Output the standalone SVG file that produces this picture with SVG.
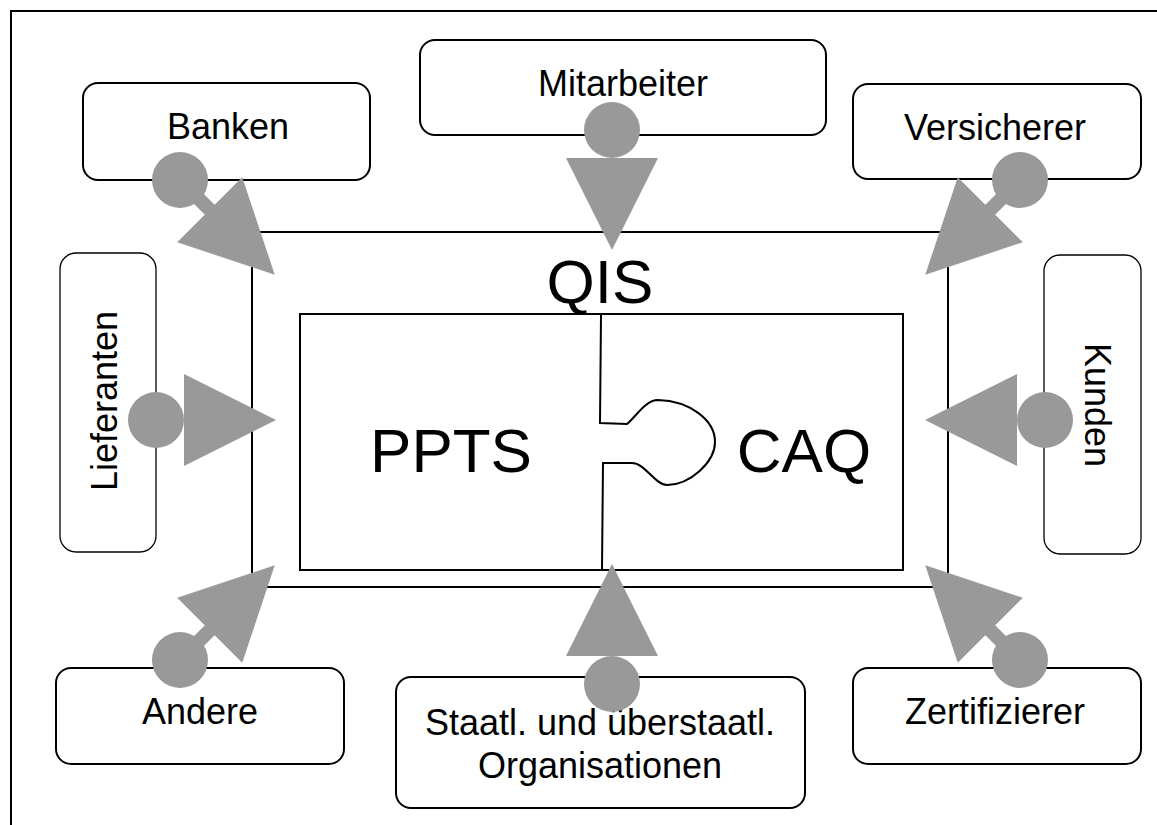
<svg xmlns="http://www.w3.org/2000/svg" xmlns:xlink="http://www.w3.org/1999/xlink" width="1157" height="825" viewBox="0 0 1157 825">
  <style>
    .box { fill: #ffffff; stroke: #000000; stroke-width: 2; }
    .thin { fill: #ffffff; stroke: #000000; stroke-width: 1.3; }
    .frame { fill: none; stroke: #000000; stroke-width: 2; }
    .lbl { font-family: "Liberation Sans", Arial, sans-serif; font-size: 36px; fill: #000000; text-anchor: middle; }
    .big { font-family: "Liberation Sans", Arial, sans-serif; font-size: 62px; fill: #000000; text-anchor: middle; }
    .conn { fill: #999999; stroke: none; }
  </style>
  <defs>
    <!-- knob-and-arrow connector pointing along +x, origin at knob centre -->
    <g id="conn-short" class="conn">
      <circle cx="0" cy="0" r="28"/>
      <polygon points="28,-46 120,0 28,46"/>
    </g>
    <g id="conn-long" class="conn">
      <circle cx="0" cy="0" r="28"/>
      <rect x="0" y="-7" width="44" height="14"/>
      <polygon points="42,-46 134,0 42,46"/>
    </g>
  </defs>

  <rect width="1157" height="825" fill="#ffffff"/>
  <path class="frame" d="M11,825 V11 H1157"/>

  <g id="qis">
    <rect class="box" x="252" y="232" width="696" height="355"/>
    <text class="big" x="600" y="303">QIS</text>
  </g>

  <g id="kern">
    <rect class="box" x="300" y="314" width="603" height="256"/>
    <path class="frame" d="M601,315 L600,423 L627,424 C635,418 645,400 658,400 C690,401 715,420 715,442 C715,462 690,485 667,485 C655,485 645,463 632,463 L603,463 L602,569"/>
    <text class="big" x="451" y="472">PPTS</text>
    <text class="big" x="804" y="472">CAQ</text>
  </g>

  <g id="banken">
    <rect class="box" x="83" y="83" width="287" height="97" rx="15"/>
    <text class="lbl" x="228" y="139">Banken</text>
  </g>
  <g id="mitarbeiter">
    <rect class="box" x="420" y="40" width="406" height="95" rx="15"/>
    <text class="lbl" x="623" y="96">Mitarbeiter</text>
  </g>
  <g id="versicherer">
    <rect class="box" x="853" y="84" width="288" height="95" rx="15"/>
    <text class="lbl" x="995" y="140">Versicherer</text>
  </g>
  <g id="lieferanten">
    <rect class="thin" x="60" y="253" width="96" height="299" rx="16"/>
    <text class="lbl" transform="translate(117,401) rotate(-90)">Lieferanten</text>
  </g>
  <g id="kunden">
    <rect class="thin" x="1044" y="255" width="97" height="299" rx="16"/>
    <text class="lbl" transform="translate(1085,405) rotate(90)">Kunden</text>
  </g>
  <g id="andere">
    <rect class="box" x="56" y="668" width="288" height="96" rx="15"/>
    <text class="lbl" x="200" y="724">Andere</text>
  </g>
  <g id="staatl">
    <rect class="box" x="396" y="677" width="409" height="131" rx="15"/>
    <text class="lbl" x="600" y="735">Staatl. und überstaatl.</text>
    <text class="lbl" x="600" y="778">Organisationen</text>
  </g>
  <g id="zertifizierer">
    <rect class="box" x="853" y="668" width="288" height="96" rx="15"/>
    <text class="lbl" x="995" y="724">Zertifizierer</text>
  </g>

  <g id="connectors">
    <use xlink:href="#conn-long" transform="translate(180,180) rotate(45)"/>
    <use xlink:href="#conn-short" transform="translate(612,130) rotate(90)"/>
    <use xlink:href="#conn-long" transform="translate(1020,180) rotate(135)"/>
    <use xlink:href="#conn-short" transform="translate(156,420)"/>
    <use xlink:href="#conn-short" transform="translate(1045,420) rotate(180)"/>
    <use xlink:href="#conn-long" transform="translate(180,660) rotate(-45)"/>
    <use xlink:href="#conn-short" transform="translate(612,684) rotate(-90)"/>
    <use xlink:href="#conn-long" transform="translate(1020,660) rotate(-135)"/>
  </g>
</svg>
